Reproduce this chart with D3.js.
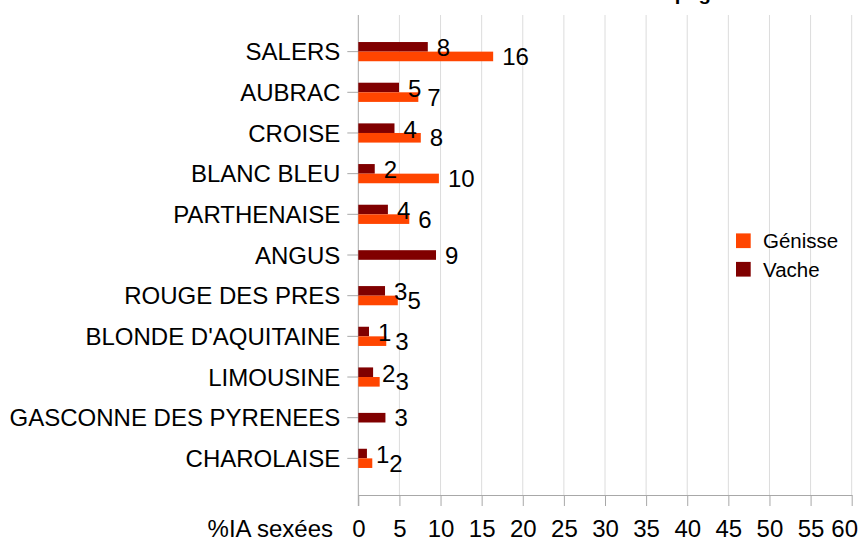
<!DOCTYPE html>
<html><head><meta charset="utf-8">
<script src="https://cdn.jsdelivr.net/npm/d3@7"></script>
<style>body{margin:0;background:#fff}svg{display:block;font-family:"Liberation Sans",Arial,sans-serif}</style>
</head><body><svg id="c" width="862" height="541"></svg>
<script>
const categories = ["SALERS","AUBRAC","CROISE","BLANC BLEU","PARTHENAISE","ANGUS","ROUGE DES PRES","BLONDE D'AQUITAINE","LIMOUSINE","GASCONNE DES PYRENEES","CHAROLAISE"];
const genisse = [16.4, 7.3, 7.6, 9.8, 6.2, null, 4.8, 3.4, 2.6, null, 1.7];
const vache   = [8.45, 4.95, 4.4, 2.0, 3.6, 9.45, 3.25, 1.3, 1.8, 3.3, 1.05];
const seriesNames = ["Génisse", "Vache"];
const seriesColors = ["#ff4500", "#800000"];
const xTicks = [0,5,10,15,20,25,30,35,40,45,50,55,60];
const xTitle = "%IA sexées";
const chartTitle = "Taux de femelles issues des IA sexées selon la race sur la campagne 2012";

const svg = d3.select("#c");
const W = 862, H = 541;
const FS = 24;
const x = d3.scaleLinear().domain([0, 60]).range([358.3, 851.7]);
const y = d3.scaleBand().domain(categories).range([31.3, 478.7]).padding(0);
const plotTop = 15, plotBottom = 495;
const barH = 9.6;

// title (cropped at top)
svg.append("text").attr("x", 72).attr("y", -0.5)
  .attr("textLength", 713).attr("lengthAdjust", "spacingAndGlyphs")
  .attr("font-size", 19).attr("font-weight", "bold").attr("fill", "#000").text(chartTitle);

// gridlines
svg.append("g").selectAll("line").data(xTicks.filter(d => d > 0)).join("line")
  .attr("x1", d => x(d)).attr("x2", d => x(d)).attr("y1", plotTop).attr("y2", plotBottom)
  .attr("stroke", "#dcdcdc").attr("stroke-width", 1);

// x axis
const xAxis = svg.append("g").attr("transform", `translate(0,${plotBottom})`)
  .call(d3.axisBottom(x).tickValues(xTicks).tickSize(11).tickSizeOuter(0).tickPadding(14));
xAxis.select(".domain").attr("stroke", "#a8a8a8");
xAxis.selectAll(".tick line").attr("stroke", "#a8a8a8");
xAxis.selectAll(".tick text").attr("font-size", FS).attr("font-family", "Liberation Sans, Arial, sans-serif")
  .attr("fill", "#000").attr("dy", 0).attr("y", 42);
xAxis.selectAll(".tick text").each(function() {
  const b = this.getBBox();
  const t = this.parentNode.transform.baseVal.consolidate().matrix.e;
  if (t + b.x + b.width > W - 3) {
    d3.select(this).attr("text-anchor", "end").attr("x", (W - 4) - t);
  }
});

// y axis
const yAxis = svg.append("g").attr("transform", `translate(${x(0)},0)`)
  .call(d3.axisLeft(y).tickSize(11).tickSizeOuter(0).tickPadding(7));
yAxis.select(".domain").remove();
yAxis.selectAll(".tick line").attr("stroke", "#a8a8a8");
yAxis.selectAll(".tick text").attr("font-size", FS).attr("font-family", "Liberation Sans, Arial, sans-serif")
  .attr("fill", "#000").attr("dy", "0.36em");
svg.append("line").attr("x1", x(0)).attr("x2", x(0)).attr("y1", plotTop).attr("y2", plotBottom + 11)
  .attr("stroke", "#a8a8a8");

// x title
svg.append("text").attr("x", 333).attr("y", 537).attr("text-anchor", "end")
  .attr("font-size", FS).attr("fill", "#000").text(xTitle);

// bars + labels (génisse label pushed right of vache label when they would collide)
const rows = categories.map((c, i) => ({c, g: genisse[i], v: vache[i]}));
const barsG = svg.append("g");
const labelsG = svg.append("g");
rows.forEach(r => {
  const c = y(r.c) + y.bandwidth() / 2;
  const both = r.g != null && r.v != null;
  let vacheRight = -Infinity;
  const items = [];
  if (r.v != null) items.push({val: r.v, s: 1, top: both ? c - barH : c - barH / 2});
  if (r.g != null) items.push({val: r.g, s: 0, top: both ? c : c - barH / 2});
  items.forEach(it => {
    barsG.append("rect").attr("x", x(0)).attr("y", it.top)
      .attr("width", x(it.val) - x(0)).attr("height", barH)
      .attr("fill", seriesColors[it.s]);
    let lx = x(it.val) + 9;
    if (it.s === 0) lx = Math.max(lx, vacheRight);
    const extra = (it.s === 1 && both) ? 1.0 : 0;
    const t = labelsG.append("text").attr("x", lx).attr("y", it.top + barH / 2 + 8.6 + extra)
      .attr("font-size", FS).attr("fill", "#000").text(Math.round(it.val));
    if (it.s === 1) vacheRight = lx + t.node().getComputedTextLength();
  });
});

// legend
const leg = svg.append("g");
seriesNames.forEach((n, i) => {
  const cy = 240.7 + i * 28.5;
  leg.append("rect").attr("x", 736).attr("y", cy - 7.3).attr("width", 14.7).attr("height", 14.7)
    .attr("fill", seriesColors[i]);
  leg.append("text").attr("x", 763).attr("y", cy + 7.5).attr("font-size", 20.5)
    .attr("fill", "#000").text(n);
});
</script></body></html>
